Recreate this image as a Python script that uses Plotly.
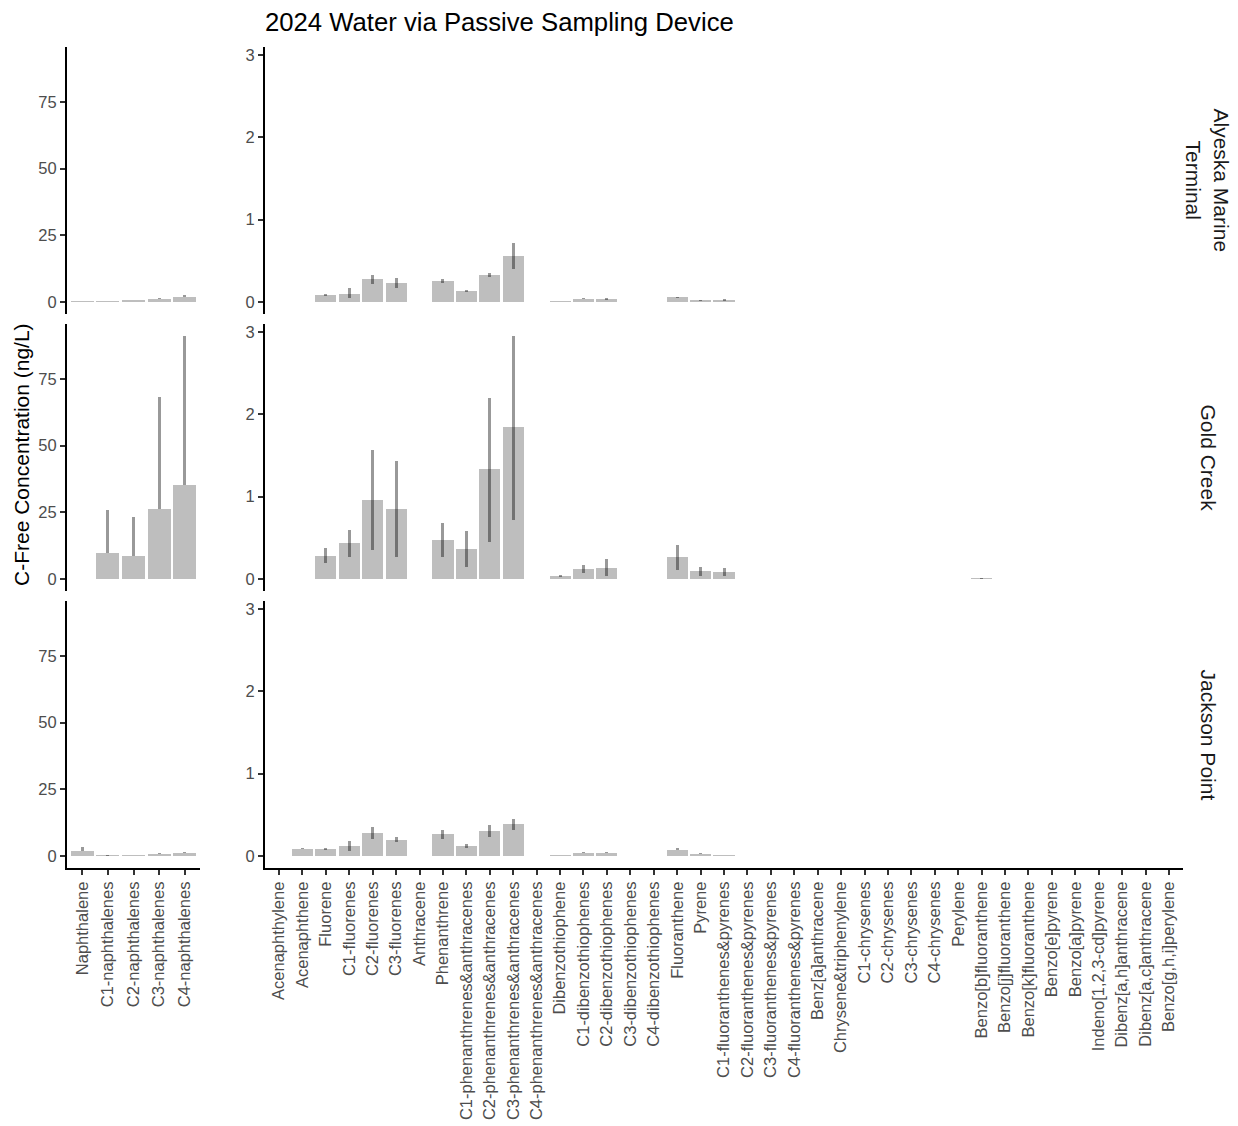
import plotly.graph_objects as go

# ---- categories -------------------------------------------------------------
naph_cats = ["Naphthalene", "C1-naphthalenes", "C2-naphthalenes",
             "C3-naphthalenes", "C4-naphthalenes"]

pah_cats = ["Acenaphthylene", "Acenaphthene", "Fluorene", "C1-fluorenes",
            "C2-fluorenes", "C3-fluorenes", "Anthracene", "Phenanthrene",
            "C1-phenanthrenes&anthracenes", "C2-phenanthrenes&anthracenes",
            "C3-phenanthrenes&anthracenes", "C4-phenanthrenes&anthracenes",
            "Dibenzothiophene", "C1-dibenzothiophenes", "C2-dibenzothiophenes",
            "C3-dibenzothiophenes", "C4-dibenzothiophenes", "Fluoranthene",
            "Pyrene", "C1-fluoranthenes&pyrenes", "C2-fluoranthenes&pyrenes",
            "C3-fluoranthenes&pyrenes", "C4-fluoranthenes&pyrenes",
            "Benz[a]anthracene", "Chrysene&triphenylene", "C1-chrysenes",
            "C2-chrysenes", "C3-chrysenes", "C4-chrysenes", "Perylene",
            "Benzo[b]fluoranthene", "Benzo[j]fluoranthene",
            "Benzo[k]fluoranthene", "Benzo[e]pyrene", "Benzo[a]pyrene",
            "Indeno[1,2,3-cd]pyrene", "Dibenz[a,h]anthracene",
            "Dibenz[a,c]anthracene", "Benzo[g,h,i]perylene"]

sites = ["Alyeska Marine<br>Terminal", "Gold Creek", "Jackson Point"]

N = None
PAD19 = [N] * 19

# ---- naphthalenes (ng/L): mean and upper bound ------------------------------
alyeska_naph_mean = [0.25, 0.05, 0.4, 1.25, 1.9]
alyeska_naph_hi = [0.3, 0.1, 0.5, 1.5, 2.4]
gold_naph_mean = [N, 9.6, 8.75, 26.4, 35.4]
gold_naph_hi = [N, 25.75, 23.1, 68.2, 91.1]
jackson_naph_mean = [1.65, 0.1, 0.3, 0.75, 0.9]
jackson_naph_hi = [3.2, 0.15, 0.35, 0.95, 1.3]

# ---- other PAHs (ng/L): mean, lower, upper ---------------------------------
alyeska_pah_mean = [N, N, 0.08, 0.10, 0.28, 0.23, N, 0.255, 0.13, 0.325, 0.56, N,
                    0.01, 0.04, 0.03, N, N, 0.055, 0.02, 0.025] + PAD19
alyeska_pah_lo = [N, N, 0.07, 0.045, 0.22, 0.17, N, 0.23, 0.115, 0.30, 0.40, N,
                  0.005, 0.035, 0.02, N, N, 0.045, 0.015, 0.015] + PAD19
alyeska_pah_hi = [N, N, 0.09, 0.167, 0.325, 0.29, N, 0.28, 0.145, 0.35, 0.716, N,
                  0.015, 0.045, 0.05, N, N, 0.065, 0.025, 0.04] + PAD19

gold_pah_mean = [N, N, 0.28, 0.43, 0.96, 0.85, N, 0.47, 0.36, 1.33, 1.84, N,
                 0.03, 0.12, 0.135, N, N, 0.265, 0.09, 0.085,
                 N, N, N, N, N, N, N, N, N, N, 0.005, N, N, N, N, N, N, N, N]
gold_pah_lo = [N, N, 0.19, 0.26, 0.35, 0.27, N, 0.26, 0.145, 0.45, 0.72, N,
               0.02, 0.077, 0.037, N, N, 0.11, 0.04, 0.04,
               N, N, N, N, N, N, N, N, N, N, 0.004, N, N, N, N, N, N, N, N]
gold_pah_hi = [N, N, 0.37, 0.60, 1.57, 1.43, N, 0.685, 0.58, 2.2, 2.95, N,
               0.05, 0.165, 0.24, N, N, 0.41, 0.14, 0.13,
               N, N, N, N, N, N, N, N, N, N, 0.006, N, N, N, N, N, N, N, N]

jackson_pah_mean = [N, 0.085, 0.085, 0.12, 0.28, 0.195, N, 0.26, 0.12, 0.30, 0.39, N,
                    0.01, 0.035, 0.035, N, N, 0.077, 0.025, 0.01] + PAD19
jackson_pah_lo = [N, 0.08, 0.075, 0.055, 0.20, 0.17, N, 0.21, 0.10, 0.225, 0.32, N,
                  0.005, 0.03, 0.03, N, N, 0.07, 0.02, 0.005] + PAD19
jackson_pah_hi = [N, 0.09, 0.095, 0.18, 0.35, 0.23, N, 0.31, 0.15, 0.38, 0.45, N,
                  0.015, 0.045, 0.045, N, N, 0.09, 0.03, 0.015] + PAD19

naph_rows = [(alyeska_naph_mean, alyeska_naph_mean, alyeska_naph_hi),
             (gold_naph_mean, gold_naph_mean, gold_naph_hi),
             (jackson_naph_mean, jackson_naph_mean, jackson_naph_hi)]
pah_rows = [(alyeska_pah_mean, alyeska_pah_lo, alyeska_pah_hi),
            (gold_pah_mean, gold_pah_lo, gold_pah_hi),
            (jackson_pah_mean, jackson_pah_lo, jackson_pah_hi)]

# ---- page geometry (pixels) -------------------------------------------------
W, H = 1238, 1126
col_px = [(67, 200), (265, 1183)]
row_px = [(47, 314), (324, 591), (601, 868)]

BAR = "#bebebe"
ERR = "rgba(0,0,0,0.4)"
FONT = "Liberation Sans, Arial, sans-serif"
TICKFONT = dict(family=FONT, size=16.5, color="#4d4d4d")


def err_parts(mean, lo, hi):
    plus, minus = [], []
    for m, l, h in zip(mean, lo, hi):
        if m is None:
            plus.append(None)
            minus.append(None)
        else:
            plus.append(h - m)
            minus.append(m - l)
    return plus, minus


fig = go.Figure()
layout = {}

for r in range(3):
    for c in range(2):
        idx = r * 2 + c + 1
        suffix = "" if idx == 1 else str(idx)
        cats = naph_cats if c == 0 else pah_cats
        mean, lo, hi = (naph_rows if c == 0 else pah_rows)[r]
        plus, minus = err_parts(mean, lo, hi)
        fig.add_trace(go.Bar(
            x=cats, y=mean, width=0.9,
            marker=dict(color=BAR, line=dict(width=0)),
            error_y=dict(type="data", array=plus, arrayminus=minus,
                         symmetric=False, width=0, thickness=3, color=ERR),
            xaxis="x" + suffix, yaxis="y" + suffix, showlegend=False,
            hoverinfo="skip",
        ))

        x0, x1 = col_px[c]
        y0, y1 = row_px[r]
        bottom = r == 2
        layout["xaxis" + suffix] = dict(
            domain=[x0 / W, x1 / W], anchor="y" + suffix, type="category",
            categoryorder="array", categoryarray=cats,
            range=[-0.6, len(cats) - 0.4],
            tickmode="array", tickvals=cats, ticktext=cats,
            showticklabels=bottom, ticks="outside" if bottom else "",
            ticklen=5, tickwidth=1.5, tickcolor="#333333",
            tickangle=-90, tickfont=TICKFONT,
            showline=bottom, linecolor="black", linewidth=2,
            showgrid=False, zeroline=False, automargin=False, fixedrange=True,
        )
        if c == 0:
            yr, yt = [-4.555, 95.655], [0, 25, 50, 75]
        else:
            yr, yt = [-0.1475, 3.0975], [0, 1, 2, 3]
        layout["yaxis" + suffix] = dict(
            domain=[1 - y1 / H, 1 - y0 / H], anchor="x" + suffix,
            range=yr, tickmode="array", tickvals=yt,
            ticks="outside", ticklen=5, tickwidth=1.5, tickcolor="#333333",
            tickfont=TICKFONT, showline=True, linecolor="black", linewidth=2,
            showgrid=False, zeroline=False, automargin=False, fixedrange=True,
        )

annotations = [
    dict(text="C-Free Concentration (ng/L)", x=22 / W, y=1 - 455 / H,
         xref="paper", yref="paper", textangle=-90, showarrow=False,
         xanchor="center", yanchor="middle",
         font=dict(family=FONT, size=21, color="black")),
]
for r, site in enumerate(sites):
    y0, y1 = row_px[r]
    annotations.append(dict(
        text=site, x=1208 / W, y=1 - (y0 + y1) / 2 / H,
        xref="paper", yref="paper", textangle=90, showarrow=False,
        xanchor="center", yanchor="middle",
        font=dict(family=FONT, size=21, color="#1a1a1a")))

fig.update_layout(
    width=W, height=H, autosize=False,
    margin=dict(l=0, r=0, t=0, b=0),
    paper_bgcolor="white", plot_bgcolor="white",
    title=dict(text="2024 Water via Passive Sampling Device",
               x=265 / W, xref="paper", xanchor="left",
               y=1 - 22 / H, yref="paper", yanchor="middle",
               font=dict(family=FONT, size=25.7, color="black")),
    annotations=annotations,
    bargap=0,
    **layout,
)

fig.write_html("out.html")
